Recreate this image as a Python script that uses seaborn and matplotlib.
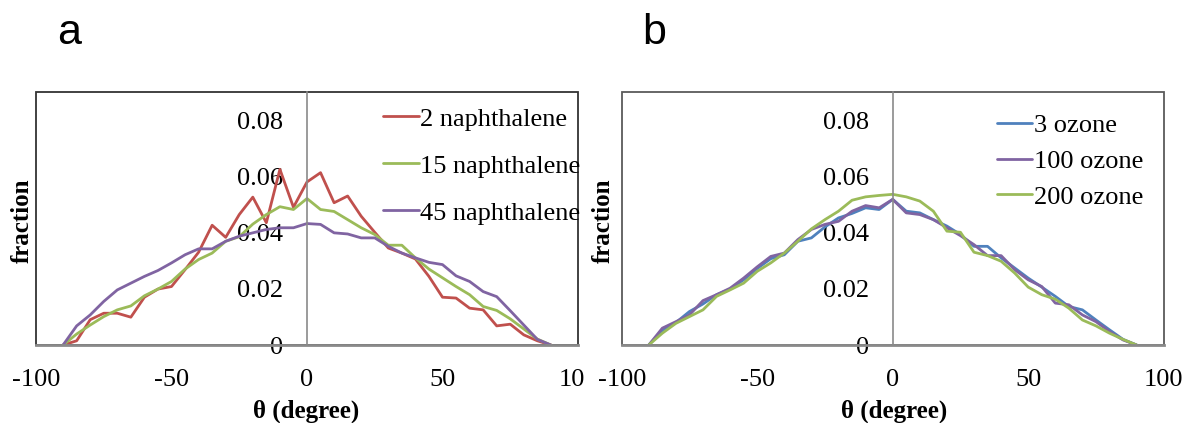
import matplotlib
matplotlib.use("Agg")
import matplotlib.pyplot as plt
from matplotlib.patches import Rectangle
from matplotlib.lines import Line2D
from matplotlib.transforms import Bbox
import seaborn as sns
import pandas as pd

# ---------------- data ----------------
theta = [-90, -85, -80, -75, -70, -65, -60, -55, -50, -45, -40, -35, -30, -25, -20, -15, -10, -5, 0,
         5, 10, 15, 20, 25, 30, 35, 40, 45, 50, 55, 60, 65, 70, 75, 80, 85, 90]

naph_labels = ["2 naphthalene", "15 naphthalene", "45 naphthalene"]
naph_2 = [0, .0015, .009, .0113, .0113, .0099, .017, .0199, .0208, .0268, .033, .0426, .0383, .0464,
          .0526, .0435, .0625, .049, .058,
          .0613, .0506, .053, .0458, .0401, .0345, .0327, .0306, .0244, .017, .0167, .0131, .0125,
          .0068, .0074, .0036, .0015, 0]
naph_15 = [0, .0039, .0071, .0101, .0125, .0139, .0175, .0199, .0226, .027, .0304, .0327, .0369, .0385,
           .043, .0464, .0492, .0482, .0521,
           .0482, .0475, .0446, .0417, .0393, .0355, .0355, .031, .027, .0239, .0208, .0179, .0137,
           .0123, .0093, .0057, .0021, 0]
naph_45 = [0, .0068, .0107, .0155, .0196, .022, .0244, .0265, .0292, .0321, .0342, .0342, .0369, .0387,
           .0399, .0411, .0417, .0417, .0432,
           .0429, .0399, .0395, .0381, .0381, .0351, .0327, .031, .0294, .0286, .0246, .0226, .019,
           .0172, .0122, .0071, .002, 0]

ozone_labels = ["3 ozone", "100 ozone", "200 ozone"]
ozone_3 = [0, .0051, .008, .0119, .0146, .0179, .0199, .0232, .0272, .0307, .0321, .0369, .0381, .042,
           .0452, .0468, .0488, .0482, .0518,
           .0476, .047, .0446, .0423, .0393, .0351, .0351, .031, .0274, .0238, .0206, .0173, .0137,
           .0125, .0089, .0054, .002, 0]
ozone_100 = [0, .006, .0083, .0107, .0158, .0179, .0202, .0238, .0278, .0315, .0327, .0375, .0411, .0429,
             .044, .0476, .0496, .0488, .0518,
             .047, .0464, .0446, .0417, .0389, .0357, .0318, .0318, .0268, .0232, .0208, .0149, .0143,
             .0107, .0083, .0048, .0018, 0]
ozone_200 = [0, .0042, .0077, .0101, .0125, .0173, .0196, .022, .0262, .0292, .0327, .0369, .0413, .0446,
             .0476, .0515, .0527, .0532, .0536,
             .0527, .0512, .0476, .0405, .0401, .033, .0318, .0298, .0256, .0206, .0179, .0163, .0131,
             .0089, .0068, .0042, .002, 0]

x_ticks = [-100, -50, 0, 50, 100]
x_ticklabels = ["-100", "-50", "0", "50", "100"]
y_ticks = [0, 0.02, 0.04, 0.06, 0.08]
y_ticklabels = ["0", "0.02", "0.04", "0.06", "0.08"]

colors_a = ["#C0504D", "#9BBB59", "#8064A2"]
colors_b = ["#4F81BD", "#8064A2", "#9BBB59"]


def long_df(labels, series):
    rows = []
    for lab, vals in zip(labels, series):
        for t, v in zip(theta, vals):
            rows.append({"theta": t, "fraction": v, "series": lab})
    return pd.DataFrame(rows)


dfA = long_df(naph_labels, [naph_2, naph_15, naph_45])
dfB = long_df(ozone_labels, [ozone_3, ozone_100, ozone_200])

# ---------------- style ----------------
sns.set_style("white")
plt.rcParams["font.family"] = ["Liberation Serif", "DejaVu Serif"]
plt.rcParams["text.color"] = "black"

W, H = 1184, 423
fig = plt.figure(figsize=(W / 100, H / 100), dpi=100)
axA = fig.add_axes([36 / W, 1 - 345 / H, 542 / W, 253 / H])
axB = fig.add_axes([621.7 / W, 1 - 345 / H, 542 / W, 253 / H])

FS = 19
LW = 2.0
AXIS_GREY = "#8a8a8a"


def draw(ax, df, labels, colors, frame_color, leg_anchor, labelspacing):
    sns.lineplot(data=df, x="theta", y="fraction", hue="series", hue_order=labels,
                 palette=colors, linewidth=LW, ax=ax, legend=False, sort=False,
                 estimator=None)
    ax.set_xlim(-100, 100)
    ax.set_ylim(0, 0.09)
    ax.spines["left"].set_position(("data", 0))
    ax.spines["left"].set_color(AXIS_GREY)
    ax.spines["left"].set_linewidth(1.2)
    ax.spines["bottom"].set_color(AXIS_GREY)
    ax.spines["bottom"].set_linewidth(2.0)
    ax.spines["top"].set_visible(False)
    ax.spines["right"].set_visible(False)
    ax.add_patch(Rectangle((0, 0), 1, 1, transform=ax.transAxes, fill=False,
                           edgecolor=frame_color, linewidth=1.3, clip_on=False, zorder=0.5))
    ax.set_xticks(x_ticks)
    ax.set_xticklabels(x_ticklabels)
    ax.set_yticks(y_ticks)
    ax.set_yticklabels(y_ticklabels)
    ax.tick_params(axis="both", direction="out", length=6, width=1.1, color=AXIS_GREY,
                   labelsize=FS, pad=11, labelcolor="black")
    ax.set_xlabel("")
    ax.set_ylabel("")
    handles = [Line2D([0], [0], color=c, linewidth=LW) for c in colors]
    ax.legend(handles, labels, loc="upper left", bbox_to_anchor=leg_anchor,
              frameon=False, fontsize=FS, handlelength=1.35, handletextpad=0.05,
              labelspacing=labelspacing, borderpad=0, borderaxespad=0)


draw(axA, dfA, naph_labels, colors_a, "#333333", (0.64, 0.94), 0.89)
draw(axB, dfB, ozone_labels, colors_b, "#5a5a5a", (0.692, 0.915), 0.47)

# the right-most x label of panel a is partly hidden in the original (cut at ~584 px)
last = axA.get_xticklabels()[-1]
last.set_clip_box(Bbox.from_extents(0, 0, 584, H))
last.set_clip_on(True)

# panel letters
fig.text(69 / W, 1 - 33 / H, "a", family=["Liberation Sans", "DejaVu Sans"],
         fontsize=31, ha="center", va="center", color="black")
fig.text(654 / W, 1 - 33 / H, "b", family=["Liberation Sans", "DejaVu Sans"],
         fontsize=31, ha="center", va="center", color="black")

# axis titles
for xl, xc in [(22, 306), (603, 894)]:
    fig.text(xl / W, 1 - 221 / H, "fraction", rotation=90, fontweight="bold",
             fontsize=18, ha="center", va="center", color="black")
    fig.text(xc / W, 1 - 411 / H, "θ (degree)", fontweight="bold",
             fontsize=18, ha="center", va="center", color="black")

fig.savefig("out.png", dpi=100)
